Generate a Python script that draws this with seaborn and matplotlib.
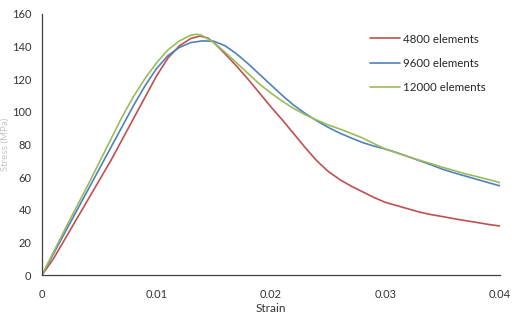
import pandas as pd
import matplotlib
matplotlib.use("Agg")
import matplotlib.pyplot as plt
import seaborn as sns

# 값은 그림에서 읽어 온 것
strain_4800 = [0, 0.001, 0.002, 0.003, 0.004, 0.005, 0.006, 0.007, 0.008, 0.009,
               0.010, 0.011, 0.012, 0.013, 0.0138, 0.0145, 0.015, 0.016, 0.017, 0.018,
               0.019, 0.020, 0.021, 0.022, 0.023, 0.024, 0.025, 0.026, 0.027, 0.028,
               0.029, 0.030, 0.031, 0.032, 0.033, 0.034, 0.035, 0.036, 0.037, 0.038,
               0.039, 0.040]
stress_4800 = [0, 10, 22, 34, 46, 58, 70, 83, 96, 109,
               122, 133, 140.5, 145, 146.5, 145.2, 142.5, 135.5, 128, 120,
               111.5, 103, 95, 86.5, 78, 70, 63.5, 58.5, 54.5, 51,
               47.5, 44.5, 42.5, 40.5, 38.5, 37, 35.8, 34.5, 33.3, 32.2,
               31, 30]

strain_9600 = [0, 0.001, 0.002, 0.003, 0.004, 0.005, 0.006, 0.007, 0.008, 0.009,
               0.010, 0.011, 0.012, 0.013, 0.014, 0.015, 0.016, 0.017, 0.018, 0.019,
               0.020, 0.021, 0.022, 0.023, 0.024, 0.025, 0.026, 0.027, 0.028, 0.029,
               0.030, 0.031, 0.032, 0.033, 0.034, 0.035, 0.036, 0.037, 0.038, 0.039,
               0.040]
stress_9600 = [0, 13, 26, 39, 52, 65, 78, 91, 104, 116,
               126.5, 134.5, 139.5, 142.5, 143.5, 143.3, 140.5, 135.5, 129.5, 123,
               116.5, 110, 104, 99, 94.5, 90.5, 87, 84, 81.2, 79,
               77.2, 75, 72.5, 70, 67.5, 64.8, 62.6, 60.6, 58.6, 56.6,
               54.6]

strain_12000 = [0, 0.001, 0.002, 0.003, 0.004, 0.005, 0.006, 0.007, 0.008, 0.009,
                0.010, 0.011, 0.012, 0.013, 0.0135, 0.014, 0.015, 0.016, 0.017, 0.018,
                0.019, 0.020, 0.021, 0.022, 0.023, 0.024, 0.025, 0.026, 0.027, 0.028,
                0.029, 0.030, 0.031, 0.032, 0.033, 0.034, 0.035, 0.036, 0.037, 0.038,
                0.039, 0.040]
stress_12000 = [0, 14, 28, 41.5, 55, 69, 83, 97, 109.5, 120.5,
                130, 138, 143.5, 147, 147.6, 146.8, 142.5, 136.5, 130, 123.5,
                117, 111.5, 106.5, 102, 98.2, 95, 92, 89.5, 86.8, 84,
                80.5, 77.2, 74.8, 72.5, 70.3, 68.2, 66, 64, 62, 60.3,
                58.5, 56.6]

series_names = ["4800 elements", "9600 elements", "12000 elements"]
series_colors = ["#C0504D", "#4F81BD", "#9BBB59"]

x_ticks = [0, 0.01, 0.02, 0.03, 0.04]
x_tick_labels = ["0", "0.01", "0.02", "0.03", "0.04"]
y_ticks = [0, 20, 40, 60, 80, 100, 120, 140, 160]

# 긴 형식 데이터프레임 만들기
frames = []
for name, xs, ys in zip(series_names,
                        [strain_4800, strain_9600, strain_12000],
                        [stress_4800, stress_9600, stress_12000]):
    frames.append(pd.DataFrame({"Strain": xs, "Stress": ys, "Mesh": name}))
df = pd.concat(frames, ignore_index=True)

sns.set_style("white")
plt.rcParams['font.family'] = ['Lato', 'DejaVu Sans']

fig = plt.figure(figsize=(5.14, 3.21), dpi=100)
ax = fig.add_axes([42 / 514, 1 - 275 / 321, 458 / 514, 261 / 321])

sns.lineplot(data=df, x="Strain", y="Stress", hue="Mesh", hue_order=series_names,
             palette=dict(zip(series_names, series_colors)), sort=False,
             linewidth=1.2, ax=ax)

ax.set_xlim(0, 0.04)
ax.set_ylim(0, 160)
ax.set_xticks(x_ticks)
ax.set_xticklabels(x_tick_labels)
ax.set_yticks(y_ticks)
ax.tick_params(axis='x', direction='in', length=4, width=0.8, colors='#404040',
               labelsize=8, pad=10, labelcolor='#333333')
ax.tick_params(axis='y', direction='out', length=4, width=0.8, colors='#404040',
               labelsize=8, labelcolor='#333333')
ax.set_xlabel("Strain", fontsize=8.5, color='#333333', labelpad=2)
ax.set_ylabel("Stress (MPa)", fontsize=7, color='#c4c4c4')
ax.yaxis.set_label_coords(-0.071, 0.5)

sns.despine(ax=ax)
for side in ['left', 'bottom']:
    ax.spines[side].set_color('#404040')
    ax.spines[side].set_linewidth(0.9)

ax.legend(loc='upper left', bbox_to_anchor=(0.693, 0.965), frameon=False,
          fontsize=8.3, handlelength=2.6, labelspacing=1.15, handletextpad=0.3)

fig.savefig("out.png", dpi=100)
